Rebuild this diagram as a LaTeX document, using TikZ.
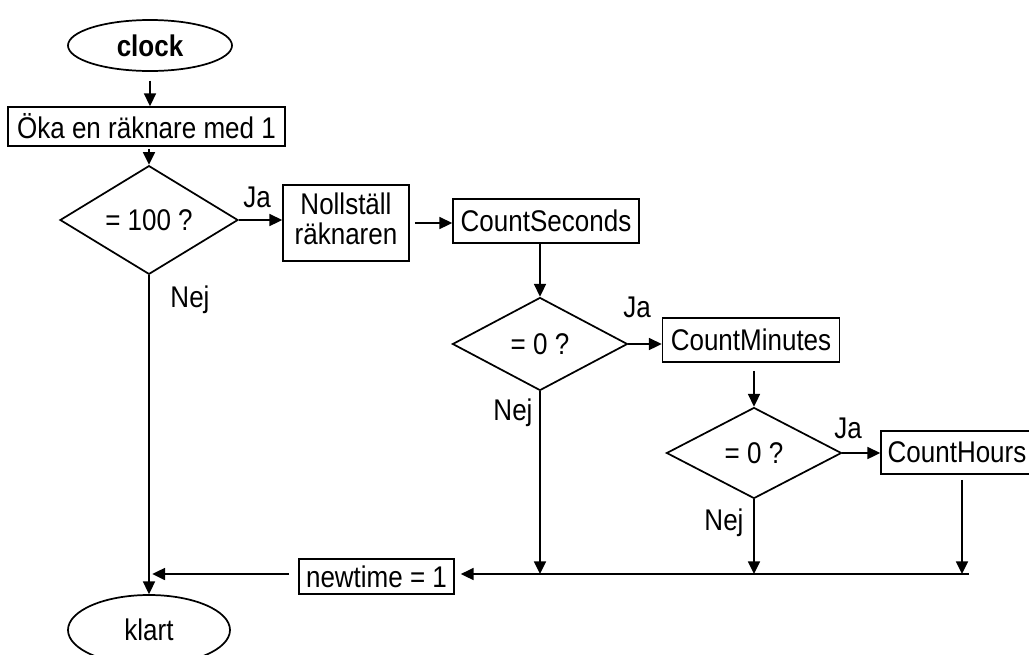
\documentclass[tikz,border=0pt]{standalone}
\usepackage{fontspec}
\usepackage{graphicx}
\setmainfont{Liberation Sans}
\usetikzlibrary{shapes.geometric,arrows.meta}
\newcommand{\vs}[1]{\scalebox{1}[1.15]{#1}}
\begin{document}
\begin{tikzpicture}[x=0.75pt,y=-0.75pt,
  font=\fontsize{19.5}{19.5}\selectfont,
  line width=1.3pt,
  arr/.style={-{Triangle[length=9.5pt,width=9pt]}},
  proc/.style={draw,rectangle,inner sep=0pt,align=center},
  dec/.style={draw,diamond,inner sep=0pt},
  term/.style={draw,ellipse,inner sep=0pt},
  lbl/.style={inner sep=0pt}]
\useasboundingbox (0,0) rectangle (1029,654);
% nodes
\node[term,minimum width=123pt,minimum height=38.25pt,font=\fontsize{19.5}{19.5}\selectfont\bfseries] (clock) at (150,45.5) {\vs{clock}};
\node[proc,minimum width=207.75pt,minimum height=29.25pt] (oka) at (146.5,126.5) {\vs{Öka en räknare med 1}};
\node[dec,minimum width=133.5pt,minimum height=70.5pt] (d1) at (149,220) {\vs{= 100 ?}};
\node[proc,minimum width=94.5pt,minimum height=57pt] (noll) at (346,223) {\vs{\begin{tabular}{@{}c@{}}Nollställ\\räknaren\end{tabular}}};
\node[proc,minimum width=139.5pt,minimum height=33pt] (cs) at (546,221) {\vs{CountSeconds}};
\node[dec,minimum width=131.25pt,minimum height=69.75pt] (d2) at (540,344) {\vs{= 0 ?}};
\node[proc,minimum width=132.75pt,minimum height=33pt] (cm) at (751,340) {\vs{CountMinutes}};
\node[dec,minimum width=131.25pt,minimum height=68.25pt] (d3) at (754,453) {\vs{= 0 ?}};
\node[proc,minimum width=114pt,minimum height=32.25pt] (ch) at (957,452.5) {\vs{CountHours}};
\node[proc,minimum width=116.25pt,minimum height=26.25pt] (nt) at (376.5,576.5) {\vs{newtime = 1}};
\node[term,minimum width=121.5pt,minimum height=52.5pt] (klart) at (149,630) {\vs{klart}};
\coordinate (m) at (969,574);
% labels
\node[lbl] (ja1) at (257,197) {\vs{Ja}};
\node[lbl] (ja2) at (637,307) {\vs{Ja}};
\node[lbl] (ja3) at (848,428) {\vs{Ja}};
\node[lbl] (nej1) at (190,300) {\vs{Nej}};
\node[lbl] (nej2) at (513,413) {\vs{Nej}};
\node[lbl] (nej3) at (724,523) {\vs{Nej}};
% connectors
\draw[arr,shorten <=6.5pt] (clock.south) -- (clock.south |- oka.north);
\draw[arr,shorten <=1.5pt] (d1.north |- oka.south) -- (d1.north);
\draw[arr] (d1.east) -- (d1.east -| noll.west);
\draw[arr,shorten <=3.75pt] (noll.east) -- (noll.east -| cs.west);
\draw[arr] (d2.north |- cs.south) -- (d2.north);
\draw[arr] (d2.east) -- (d2.east -| cm.west);
\draw[arr,shorten <=6pt] (d3.north |- cm.south) -- (d3.north);
\draw[arr] (d3.east) -- (d3.east -| ch.west);
\draw[arr,shorten <=3.75pt] ([xshift=3.75pt]ch.south) -- ([xshift=3.75pt]ch.south |- m);
\draw[arr] (d2.south) -- (d2.south |- m);
\draw[arr] (d3.south) -- (d3.south |- m);
\draw[arr,shorten >=4.5pt] (m) -- (nt.east |- m);
\draw[arr,shorten <=6.75pt,shorten >=2.5pt] (nt.west |- m) -- (d1.south |- m);
\draw[arr] (d1.south) -- (d1.south |- klart.north);
\end{tikzpicture}
\end{document}
